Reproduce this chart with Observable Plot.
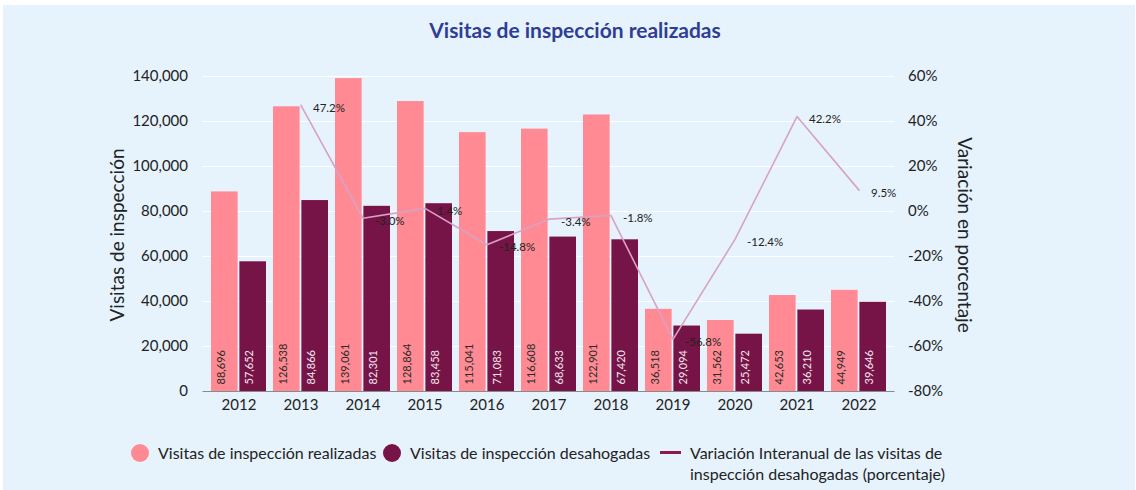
<!DOCTYPE html>
<html>
<head>
<meta charset="utf-8">
<script src="https://cdn.jsdelivr.net/npm/d3@7"></script>
<script src="https://cdn.jsdelivr.net/npm/@observablehq/plot@0.6"></script>
<style>
  html, body { margin: 0; padding: 0; background: #ffffff; }
  #card { position: absolute; left: 3px; top: 5px; width: 1132px; height: 485px; background: #e6f3fd; font-family: Lato, "Noto Sans", sans-serif; color: #222; }
  #title { height: 50px; line-height: 50px; text-align: center; font-weight: 700; font-size: 21px; color: #2f3e94; padding-left: 12px; }
  #chart svg { display: block; }
  .legend { position: absolute; font-size: 16px; color: #222; display: flex; align-items: flex-start; }
  .sw-dot { width: 18px; height: 18px; border-radius: 50%; margin-right: 9px; flex: none; }
  .sw-line { width: 21px; height: 3px; margin-top: 9px; margin-right: 9px; flex: none; }
  .lt { line-height: 21px; white-space: nowrap; }
  .ytitle { position: absolute; width: 0; height: 0; }
  .ytitle span { position: absolute; left: 0; top: 0; white-space: nowrap; font-size: 19px; color: #222; transform-origin: 0 0; }
</style>
</head>
<body>
<div id="card">
  <div id="title">Visitas de inspección realizadas</div>
  <div id="chart"></div>
  <div class="ytitle" style="left:113px; top:230px;"><span style="transform: rotate(-90deg) translate(-50%, -50%);">Visitas de inspección</span></div>
  <div class="ytitle" style="left:962px; top:230px;"><span style="transform: rotate(90deg) translate(-50%, -50%);">Variación en porcentaje</span></div>
  <div class="legend" style="left:128px; top:437px;"><div class="sw-dot" style="background:#ff8a93;margin-top:2px"></div><div class="lt">Visitas de inspección realizadas</div></div>
  <div class="legend" style="left:380px; top:437px;"><div class="sw-dot" style="background:#761447;margin-top:2px"></div><div class="lt">Visitas de inspección desahogadas</div></div>
  <div class="legend" style="left:657px; top:437px;"><div class="sw-line" style="background:#8c1a52"></div><div class="lt">Variación Interanual de las visitas de<br>inspección desahogadas (porcentaje)</div></div>
</div>
<script>
const years = ["2012","2013","2014","2015","2016","2017","2018","2019","2020","2021","2022"];
const realizadas = [88696,126538,139061,128864,115041,116608,122901,36518,31562,42653,44949];
const desahogadas = [57652,84866,82301,83458,71083,68633,67420,29094,25472,36210,39646];
const variacion = [null,47.2,-3.0,1.4,-14.8,-3.4,-1.8,-56.8,-12.4,42.2,9.5];
const leftTicks = [0,20000,40000,60000,80000,100000,120000,140000];
const pctTicks = [-80,-60,-40,-20,0,20,40,60];

const rows = years.map((y,i) => ({year:y, realizadas:realizadas[i], desahogadas:desahogadas[i], v:variacion[i]}));
const lineRows = rows.filter(d => d.v !== null);
// map the percentage axis (-80..60) onto the count axis (0..140000)
const pctToY = p => (p + 80) * 1000;
const fmt = d3.format(",");

const W = 1132, mL = 199.5, mR = 240.5;
const step = (W - mL - mR) / 11;
const bw = step * (1 - 0.12);
const inset = bw / 2 + 0.7;
const labOff = bw / 2 - (bw / 2 - 0.7) / 2;

const chart = Plot.plot({
  width: W, height: 366,
  marginLeft: mL, marginRight: mR, marginTop: 21, marginBottom: 30,
  style: {background: "transparent", fontFamily: "Lato, 'Noto Sans', sans-serif", color: "#222"},
  x: {type: "band", domain: years, paddingInner: 0.12, paddingOuter: 0.06, axis: null},
  y: {domain: [0, 140000], axis: null},
  marks: [
    Plot.gridY(leftTicks.slice(1), {stroke: "#ffffff", strokeOpacity: 0.9}),
    Plot.barY(rows, {x: "year", y: "realizadas", fill: "#ff8a93", insetRight: inset}),
    Plot.barY(rows, {x: "year", y: "desahogadas", fill: "#761447", insetLeft: inset}),
    Plot.ruleY([0], {stroke: "#8a8a8a"}),
    Plot.text(rows, {x: "year", frameAnchor: "bottom", text: d => fmt(d.realizadas), rotate: -90, textAnchor: "start", dx: -labOff, dy: -7, fill: "#2a2a2a", fontSize: 11}),
    Plot.text(rows, {x: "year", frameAnchor: "bottom", text: d => fmt(d.desahogadas), rotate: -90, textAnchor: "start", dx: labOff, dy: -7, fill: "#f3e6ee", fontSize: 11}),
    Plot.line(lineRows, {x: "year", y: d => pctToY(d.v), stroke: "#d7a2c6", strokeWidth: 1.6}),
    Plot.text(lineRows, {x: "year", y: d => pctToY(d.v), text: d => d.v.toFixed(1) + "%", textAnchor: "start", dx: 12, dy: 3, fill: "#222", fontSize: 11.5}),
    Plot.axisX({domain: years, tickSize: 0, tickPadding: 8, fontSize: 15, label: null}),
    Plot.axisY({anchor: "left", ticks: leftTicks, tickFormat: fmt, tickSize: 0, tickPadding: 15, fontSize: 15, label: null}),
    Plot.axisY({anchor: "right", ticks: pctTicks.map(pctToY), tickFormat: v => Math.round(v / 1000 - 80) + "%", tickSize: 0, tickPadding: 13, fontSize: 15, label: null})
  ]
});
document.getElementById("chart").appendChild(chart);
</script>
</body>
</html>
